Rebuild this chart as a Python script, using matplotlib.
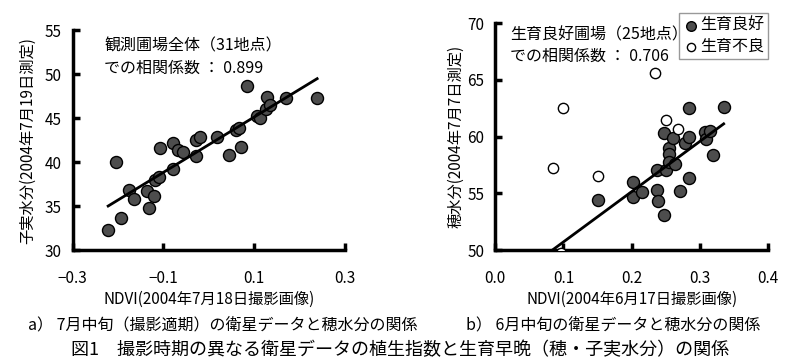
import numpy as np
import matplotlib.pyplot as plt
import matplotlib as mpl

mpl.rcParams['font.family'] = ['Noto Sans CJK JP', 'DejaVu Sans']
mpl.rcParams['axes.unicode_minus'] = False

# a) July NDVI vs grain moisture (all 31 fields)
ndvi_jul = [-0.222, -0.193, -0.205, -0.176, -0.165, -0.136, -0.131, -0.120,
            -0.119, -0.110, -0.107, -0.080, -0.078, -0.069, -0.058, -0.028,
            -0.028, -0.019, 0.019, 0.044, 0.060, 0.067, 0.072, 0.084,
            0.107, 0.113, 0.126, 0.128, 0.136, 0.171, 0.239]
grain_moist = [32.3, 33.6, 40.0, 36.8, 35.8, 36.7, 34.8, 36.1,
               38.0, 38.3, 41.6, 39.2, 42.2, 41.4, 41.1, 40.7,
               42.5, 42.8, 42.8, 40.8, 43.7, 43.9, 41.7, 48.6,
               45.2, 45.0, 46.0, 47.4, 46.5, 47.3, 47.3]

# b) June NDVI vs panicle moisture
ndvi_jun_good = [0.150, 0.2025, 0.2025, 0.2147, 0.2367, 0.2377, 0.239, 0.247,
                 0.247, 0.251, 0.255, 0.255, 0.255, 0.261, 0.2635, 0.271,
                 0.278, 0.2845, 0.2845, 0.2845, 0.307, 0.309, 0.315, 0.319, 0.335]
panicle_good = [54.4, 56.0, 54.7, 55.1, 57.1, 55.3, 54.3, 53.1,
                60.3, 57.1, 59.0, 58.5, 57.8, 59.9, 57.6, 55.2,
                59.4, 62.5, 60.0, 56.4, 60.4, 59.8, 60.5, 58.4, 62.6]
ndvi_jun_poor = [0.0844, 0.100, 0.150, 0.2347, 0.250, 0.268, 0.096]
panicle_poor = [57.2, 62.5, 56.5, 65.6, 61.5, 60.7, 49.75]

fill_c = '#4d4d4d'
fs = 11


def style_axes(ax):
    for s in ['top', 'right']:
        ax.spines[s].set_visible(False)
    for s in ['left', 'bottom']:
        ax.spines[s].set_linewidth(2.5)
    ax.tick_params(direction='in', length=5, width=2.5, labelsize=fs)
    ax.tick_params(axis='x', pad=14)
    ax.tick_params(axis='y', pad=8)


fig = plt.figure(figsize=(8, 3.63), dpi=100)

# ---- panel a
ax1 = fig.add_axes([0.091, 0.311, 0.34, 0.606])
ax1.scatter(ndvi_jul, grain_moist, s=75, c=fill_c, edgecolors='k',
            linewidths=1.0, zorder=3)
k, b = np.polyfit(ndvi_jul, grain_moist, 1)
xl = np.array([min(ndvi_jul), max(ndvi_jul)])
ax1.plot(xl, k * xl + b, color='k', lw=2, zorder=4)
ax1.set_xlim(-0.3, 0.3)
ax1.set_ylim(30, 55)
ax1.set_xticks([-0.3, -0.1, 0.1, 0.3])
ax1.set_xticklabels(['\u22120.3', '\u22120.1', '0.1', '0.3'])
ax1.set_yticks([30, 35, 40, 45, 50, 55])
style_axes(ax1)
ax1.set_ylabel('子実水分(2004年7月19日測定)', fontsize=fs, labelpad=6)
ax1.set_xlabel('NDVI(2004年7月18日撮影画像)', fontsize=fs, labelpad=3)
ax1.text(0.115, 0.965, '観測圃場全体（31地点）\nでの相関係数 ： 0.899',
         transform=ax1.transAxes, fontsize=11.5, va='top', linespacing=1.35)

# ---- panel b
ax2 = fig.add_axes([0.619, 0.311, 0.341, 0.625])
ax2.scatter(ndvi_jun_good, panicle_good, s=75, c=fill_c, edgecolors='k',
            linewidths=1.0, zorder=3, label='生育良好')
ax2.scatter(ndvi_jun_poor, panicle_poor, s=55, c='white', edgecolors='k',
            linewidths=1.0, zorder=3, label='生育不良')
k2, b2 = np.polyfit(ndvi_jun_good, panicle_good, 1)
xl2 = np.array([0.08, max(ndvi_jun_good)])
ax2.plot(xl2, k2 * xl2 + b2, color='k', lw=2, zorder=4)
ax2.set_xlim(0.0, 0.4)
ax2.set_ylim(50, 70)
ax2.set_xticks([0.0, 0.1, 0.2, 0.3, 0.4])
ax2.set_xticklabels(['0.0', '0.1', '0.2', '0.3', '0.4'])
ax2.set_yticks([50, 55, 60, 65, 70])
style_axes(ax2)
ax2.set_ylabel('穂水分(2004年7月7日測定)', fontsize=fs, labelpad=2)
ax2.set_xlabel('NDVI(2004年6月17日撮影画像)', fontsize=fs, labelpad=3)
ax2.text(0.055, 0.985, '生育良好圃場（25地点）\nでの相関係数 ： 0.706',
         transform=ax2.transAxes, fontsize=11.5, va='top', linespacing=1.35)
leg = ax2.legend(loc='upper right', bbox_to_anchor=(1.03, 1.08), fontsize=11.5,
                 handletextpad=0.1, borderpad=0.25, labelspacing=0.25,
                 handlelength=1.0, fancybox=False, framealpha=1,
                 scatterpoints=1, markerscale=0.8)
leg.get_frame().set_edgecolor('#999999')
leg.get_frame().set_linewidth(1.0)

# captions
fig.text(0.035, 0.105, 'a） 7月中旬（撮影適期）の衛星データと穂水分の関係',
         fontsize=11.5, va='center')
fig.text(0.582, 0.105, 'b） 6月中旬の衛星データと穂水分の関係',
         fontsize=11.5, va='center')
fig.text(0.5, 0.035, '図1　撮影時期の異なる衛星データの植生指数と生育早晩（穂・子実水分）の関係',
         fontsize=13, ha='center', va='center')

fig.savefig('out.png', dpi=100)
